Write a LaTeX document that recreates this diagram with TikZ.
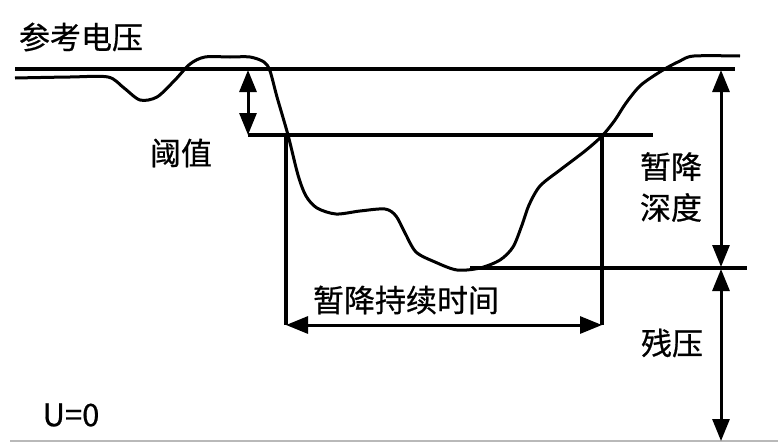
\documentclass[tikz,border=0pt]{standalone}
\usepackage{fontspec}
\setmainfont{Noto Sans CJK SC}[FakeBold=0.6]
\usetikzlibrary{arrows.meta}
\begin{document}
\begin{tikzpicture}[x=1pt,y=-1pt,
  ln/.style={line width=3.3pt,line cap=butt},
  wave/.style={line width=3pt,line join=round},
  dim/.style={line width=3pt,{Triangle[width=17pt,length=22pt]}-{Triangle[width=17pt,length=22pt]}},
  lbl/.style={font=\fontsize{31}{41}\selectfont,inner sep=0pt,align=center}]
\useasboundingbox (0,0) rectangle (778,442);
\fill[white] (0,0) rectangle (778,442);
% coordinates
\coordinate (refL) at (15,69);
\coordinate (refR) at (735,69);
\coordinate (thL) at (248,135);
\coordinate (thR) at (653,135);
\coordinate (thTop) at (248,70);
\coordinate (resL) at (470,268);
\coordinate (resR) at (747,268);
\coordinate (durL) at (286,135);
\coordinate (durR) at (602,135);
\coordinate (durLb) at (286,325);
\coordinate (durRb) at (602,325);
\coordinate (depT) at (721,70);
\coordinate (depB) at (721,267);
\coordinate (resT) at (721,269);
\coordinate (resB) at (721,441);
\coordinate (zeroL) at (10,441);
\coordinate (zeroR) at (778,441);
% lines
\draw[ln] (refL) -- (refR);
\draw[ln] (thL) -- (thR);
\draw[ln] (resL) -- (resR);
\draw[ln] (durL) -- (durLb);
\draw[ln] (durR) -- (durRb);
\draw[line width=2pt,gray!55] (zeroL) -- (zeroR);
% waveform
\draw[wave] plot[smooth,tension=0.5] coordinates {
 (15,78) (70,77) (108,77) (124,88) (140,100) (157,97) (175,80) (190,64) (205,57) (230,57) (250,57)
 (264,62) (270,71) (277,97) (288,135) (298,175) (306,196) (317,208) (336,214) (360,211) (385,209)
 (396,216) (405,233) (416,252) (435,262) (457,270) (480,268) (500,260) (513,247) (522,225) (529,205)
 (540,186) (560,170) (585,151) (602,136) (615,120) (626,103) (641,85) (663,70) (680,61) (694,56) (740,56)};
% arrows
\draw[dim] (thTop) -- (thL);
\draw[dim] (durLb) -- (durRb);
\draw[dim] (depT) -- (depB);
\draw[dim] (resT) -- (resB);
% labels
\node[lbl] (ref) at (81,37) {参考电压};
\node[lbl] (thr) at (181,153) {阈值};
\node[lbl] (depth) at (671,187) {暂降\\深度};
\node[lbl] (dur) at (406,300) {暂降持续时间};
\node[lbl] (res) at (672,343) {残压};
\node[lbl,font=\fontsize{31}{36}\selectfont] (zero) at (71,415) {U=0};
\end{tikzpicture}
\end{document}
